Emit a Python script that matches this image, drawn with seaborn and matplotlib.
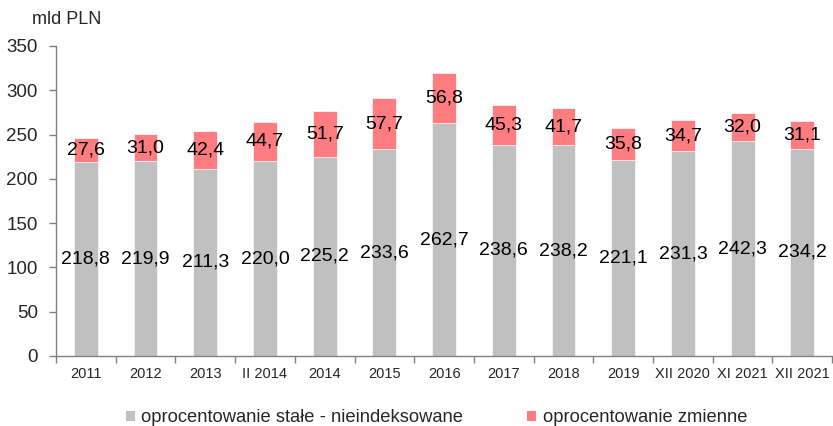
import matplotlib
matplotlib.use("Agg")
import matplotlib.pyplot as plt
import seaborn as sns
import pandas as pd
import numpy as np
from matplotlib.ticker import FixedLocator
from matplotlib.patches import Patch

categories = ["2011", "2012", "2013", "II 2014", "2014", "2015", "2016", "2017",
              "2018", "2019", "XII 2020", "XI 2021", "XII 2021"]
fixed_vals = [218.8, 219.9, 211.3, 220.0, 225.2, 233.6, 262.7, 238.6, 238.2,
              221.1, 231.3, 242.3, 234.2]
variable_vals = [27.6, 31.0, 42.4, 44.7, 51.7, 57.7, 56.8, 45.3, 41.7, 35.8,
                 34.7, 32.0, 31.1]
series_names = ["oprocentowanie stałe - nieindeksowane", "oprocentowanie zmienne"]
y_label = "mld PLN"

GREY = "#C0C0C0"
RED = "#FF7C80"

sns.set_theme(style="white")
plt.rcParams["font.family"] = ["Liberation Sans", "DejaVu Sans"]

df = pd.DataFrame({"cat": categories, "fixed": fixed_vals, "var": variable_vals})
df["total"] = df["fixed"] + df["var"]

fig = plt.figure(figsize=(8.33, 4.26), dpi=100)
ax = fig.add_axes([56 / 833, 1 - 356 / 426, 1 - 56 / 833 - 0.001, (356 - 46) / 426])

sns.barplot(data=df, x="cat", y="total", order=categories, color=RED,
            width=0.4, saturation=1, ax=ax, edgecolor="white", linewidth=0.5)
sns.barplot(data=df, x="cat", y="fixed", order=categories, color=GREY,
            width=0.4, saturation=1, ax=ax, edgecolor="white", linewidth=0.5)

for i, (f, v) in enumerate(zip(fixed_vals, variable_vals)):
    ax.text(i, f / 2, f"{f:.1f}".replace(".", ","), ha="center", va="center",
            fontsize=14, color="black")
    ax.text(i, f + v / 2, f"{v:.1f}".replace(".", ","), ha="center", va="center",
            fontsize=14, color="black")

ax.set_ylim(0, 350)
ax.set_xlim(-0.5, len(categories) - 0.5)
ax.set_yticks(np.arange(0, 351, 50))
ax.tick_params(axis="y", labelsize=13.5, length=5, width=1, color="#808080",
               direction="out", left=True, pad=8)
ax.set_xticks(range(len(categories)))
ax.set_xticklabels(categories)
ax.tick_params(axis="x", which="major", length=0, labelsize=10.5, pad=8)
ax.xaxis.set_minor_locator(FixedLocator(np.arange(-0.5, len(categories), 1.0)))
ax.tick_params(axis="x", which="minor", length=5, width=1, color="#808080",
               direction="out", bottom=True)
ax.set_xlabel("")
ax.set_ylabel("")
for s in ["top", "right"]:
    ax.spines[s].set_visible(False)
for s in ["left", "bottom"]:
    ax.spines[s].set_color("#808080")
    ax.spines[s].set_linewidth(1)

fig.text(32 / 833, 1 - 20 / 426, y_label, fontsize=13, ha="left", va="center")

handles = [Patch(facecolor=GREY, edgecolor="none"), Patch(facecolor=RED, edgecolor="none")]
fig.legend(handles, series_names, loc="center", bbox_to_anchor=(0.524, 1 - 418 / 426),
           ncol=2, frameon=False, fontsize=13.2, handlelength=0.5, handleheight=0.5,
           handletextpad=0.33, columnspacing=3.5, borderpad=0, borderaxespad=0)

fig.savefig("out.png", dpi=100)
